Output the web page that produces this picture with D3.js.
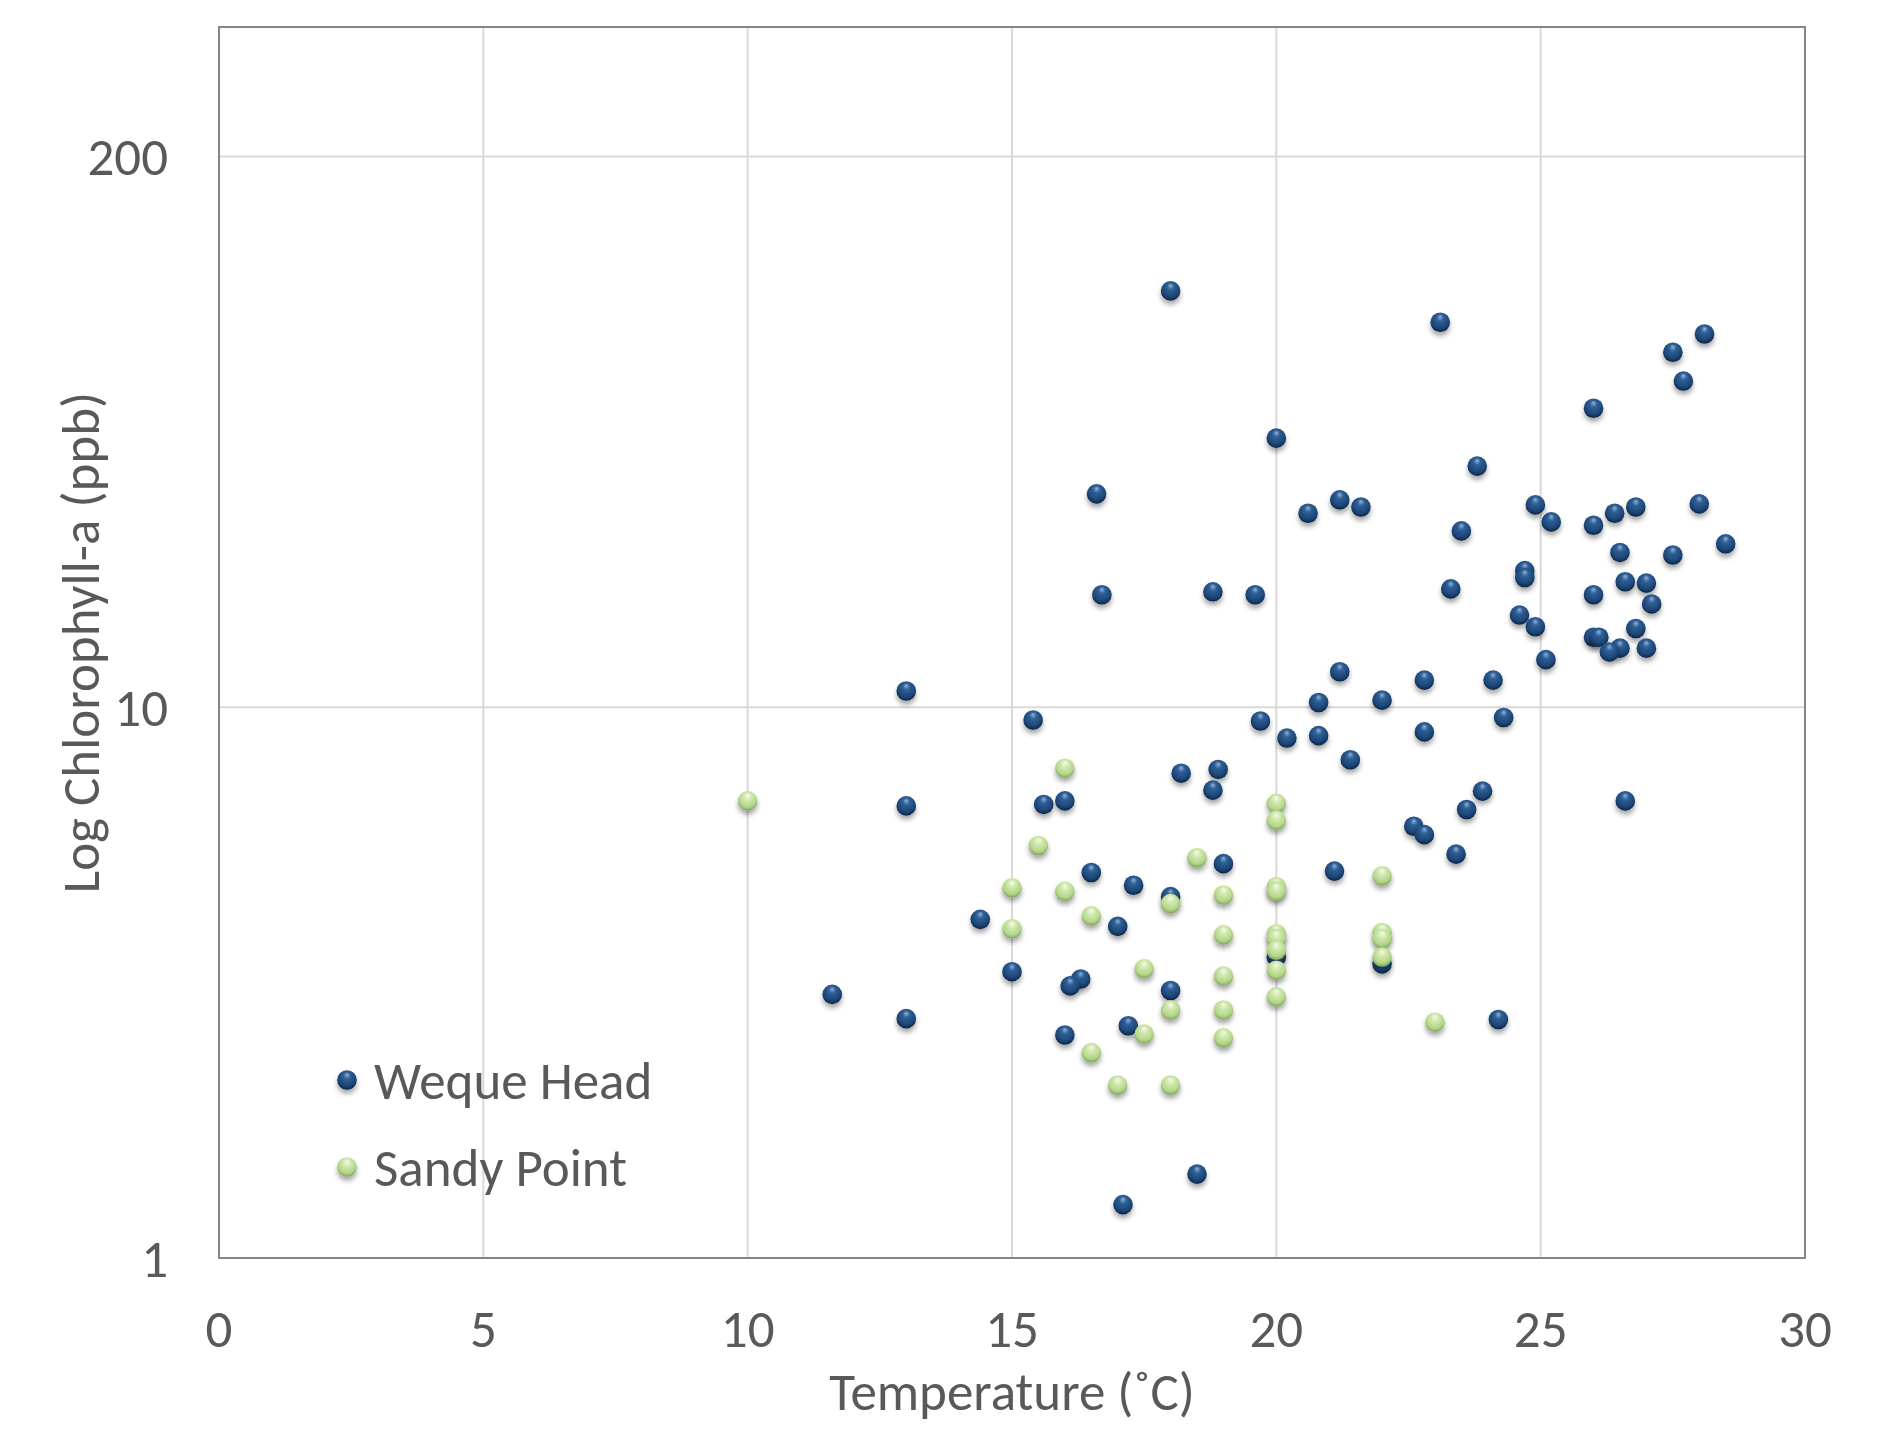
<!DOCTYPE html>
<html>
<head>
<meta charset="utf-8">
<script src="https://cdn.jsdelivr.net/npm/d3@7"></script>
<style>
  body { margin: 0; background: #fff; }
  text { font-family: Carlito, Calibri, Lato, sans-serif; fill: #595959; }
</style>
</head>
<body>
<div id="chart"></div>
<script>
// Weque Head: temperature (°C) and chlorophyll-a (ppb)
const wequeTemp = [18, 23.1, 28.1, 27.5, 27.7, 26, 20, 23.8, 16.6, 21.2, 21.6, 20.6, 24.9, 28, 26.4, 26.8,
  25.2, 26, 23.5, 28.5, 26.5, 27.5, 24.7, 24.7, 26.6, 27, 23.3, 18.8, 19.6, 16.7, 26, 27.1, 24.6, 24.9,
  26.8, 26, 26.1, 26.5, 26.3, 27, 25.1, 21.2, 22.8, 24.1, 13, 20.8, 22, 15.4, 19.7, 24.3, 20.2, 20.8,
  22.8, 21.4, 18.2, 18.9, 18.8, 23.9, 15.6, 16, 13, 26.6, 23.6, 22.6, 22.8, 23.4, 19, 16.5, 21.1, 17.3,
  18, 14.4, 17, 20, 22, 15, 16.3, 16.1, 11.6, 18, 13, 24.2, 17.2, 16, 18.5, 17.1];
const wequeChl = [57, 50, 47.6, 44.1, 39.1, 34.9, 30.8, 27.4, 24.4, 23.8, 23.1, 22.5, 23.3, 23.4, 22.5, 23.1,
  21.7, 21.4, 20.9, 19.8, 19.1, 18.9, 17.7, 17.2, 16.9, 16.8, 16.4, 16.2, 16.0, 16.0, 16.0, 15.4, 14.7, 14.0,
  13.9, 13.4, 13.4, 12.8, 12.6, 12.8, 12.2, 11.6, 11.2, 11.2, 10.7, 10.2, 10.3, 9.48, 9.44, 9.58, 8.79, 8.88,
  9.02, 8.03, 7.59, 7.71, 7.07, 7.04, 6.66, 6.76, 6.62, 6.76, 6.52, 6.08, 5.87, 5.41, 5.2, 5.01, 5.04, 4.75,
  4.53, 4.12, 4.0, 3.52, 3.42, 3.31, 3.21, 3.12, 3.01, 3.06, 2.72, 2.71, 2.64, 2.54, 1.42, 1.25];

// Sandy Point
const sandyTemp = [10, 16, 20, 20, 15.5, 18.5, 22, 15, 16, 20, 20, 19, 18, 16.5, 15, 19, 20, 20, 22, 22,
  17.5, 20, 22, 19, 20, 18, 19, 23, 17.5, 19, 16.5, 17, 18, 20];
const sandyChl = [6.76, 7.75, 6.69, 6.23, 5.61, 5.33, 4.94, 4.70, 4.63, 4.72, 4.63, 4.56, 4.40, 4.18, 3.96,
  3.86, 3.88, 3.80, 3.90, 3.80, 3.35, 3.62, 3.52, 3.25, 2.98, 2.82, 2.82, 2.68, 2.55, 2.51, 2.36, 2.06, 2.06, 3.33];

const xTicks = [0, 5, 10, 15, 20, 25, 30];
const yTicks = [1, 10, 100];
const yTickLabels = ["1", "10", "200"];

const W = 1896, H = 1430;
const margin = { top: 27, right: 91, bottom: 172, left: 219 };
const width = W - margin.left - margin.right,
      height = H - margin.top - margin.bottom;
const fontSize = "53px";

const svg = d3.select("#chart").append("svg")
    .attr("width", W)
    .attr("height", H);

const defs = svg.append("defs");

function sphere(id, stops) {
    const grad = defs.append("radialGradient")
        .attr("id", id)
        .attr("cx", "50%").attr("cy", "40%").attr("r", "60%")
        .attr("fx", "50%").attr("fy", "22%");
    stops.forEach(([o, c]) => grad.append("stop").attr("offset", o).attr("stop-color", c));
}
sphere("blueBall", [["0%", "#8fb2d9"], ["30%", "#2f5f96"], ["75%", "#1d4677"], ["100%", "#0b2342"]]);
sphere("greenBall", [["0%", "#f4fbe8"], ["35%", "#cfe8ac"], ["75%", "#b3d68a"], ["100%", "#7fa35a"]]);

const shadow = defs.append("filter").attr("id", "shadow")
    .attr("x", "-50%").attr("y", "-50%").attr("width", "200%").attr("height", "220%");
shadow.append("feDropShadow")
    .attr("dx", 0).attr("dy", 4).attr("stdDeviation", 2.5)
    .attr("flood-color", "#000").attr("flood-opacity", 0.35);

const x = d3.scaleLinear().domain([0, 30]).range([0, width]);
const y = d3.scaleLog().domain([1, Math.pow(10, 2.235)]).range([height, 0]);

const g = svg.append("g")
    .attr("transform", `translate(${margin.left},${margin.top})`);

// gridlines
g.append("g").selectAll("line")
    .data(xTicks.slice(1, -1))
    .join("line")
    .attr("x1", d => x(d)).attr("x2", d => x(d))
    .attr("y1", 0).attr("y2", height)
    .attr("stroke", "#d9d9d9").attr("stroke-width", 2);

g.append("g").selectAll("line")
    .data(yTicks.slice(1))
    .join("line")
    .attr("x1", 0).attr("x2", width)
    .attr("y1", d => y(d)).attr("y2", d => y(d))
    .attr("stroke", "#d9d9d9").attr("stroke-width", 2);

// plot border
g.append("rect")
    .attr("width", width).attr("height", height)
    .attr("fill", "none").attr("stroke", "#868686").attr("stroke-width", 2);

// tick labels
g.append("g").selectAll("text")
    .data(xTicks)
    .join("text")
    .attr("x", d => x(d))
    .attr("y", height + 89)
    .attr("text-anchor", "middle")
    .style("font-size", fontSize)
    .text(d => d);

g.append("g").selectAll("text")
    .data(yTicks)
    .join("text")
    .attr("x", -51)
    .attr("y", d => y(d))
    .attr("dy", "0.35em")
    .attr("text-anchor", "end")
    .style("font-size", fontSize)
    .text((d, i) => yTickLabels[i]);

// axis titles
svg.append("text")
    .attr("x", margin.left + width / 2)
    .attr("y", 1410)
    .attr("text-anchor", "middle")
    .style("font-size", fontSize)
    .text("Temperature (˚C)");

svg.append("text")
    .attr("transform", `translate(99,${margin.top + height / 2}) rotate(-90)`)
    .attr("text-anchor", "middle")
    .style("font-size", fontSize)
    .text("Log Chlorophyll-a (ppb)");

const r = 9.8;
const weque = wequeTemp.map((t, i) => ({ t, c: wequeChl[i] }));
const sandy = sandyTemp.map((t, i) => ({ t, c: sandyChl[i] }));

g.append("g").selectAll("circle")
    .data(weque)
    .join("circle")
    .attr("cx", d => x(d.t))
    .attr("cy", d => y(d.c))
    .attr("r", r)
    .attr("fill", "url(#blueBall)")
    .attr("filter", "url(#shadow)");

g.append("g").selectAll("circle")
    .data(sandy)
    .join("circle")
    .attr("cx", d => x(d.t))
    .attr("cy", d => y(d.c))
    .attr("r", r)
    .attr("fill", "url(#greenBall)")
    .attr("filter", "url(#shadow)");

// legend
const legend = svg.append("g").attr("transform", "translate(347,1080)");
const items = [
    { name: "Weque Head", fill: "url(#blueBall)" },
    { name: "Sandy Point", fill: "url(#greenBall)" }
];
const li = legend.selectAll("g")
    .data(items)
    .join("g")
    .attr("transform", (d, i) => `translate(0,${i * 87})`);
li.append("circle")
    .attr("r", r)
    .attr("fill", d => d.fill)
    .attr("filter", "url(#shadow)");
li.append("text")
    .attr("x", 27)
    .attr("dy", "0.36em")
    .style("font-size", fontSize)
    .text(d => d.name);
</script>
</body>
</html>
